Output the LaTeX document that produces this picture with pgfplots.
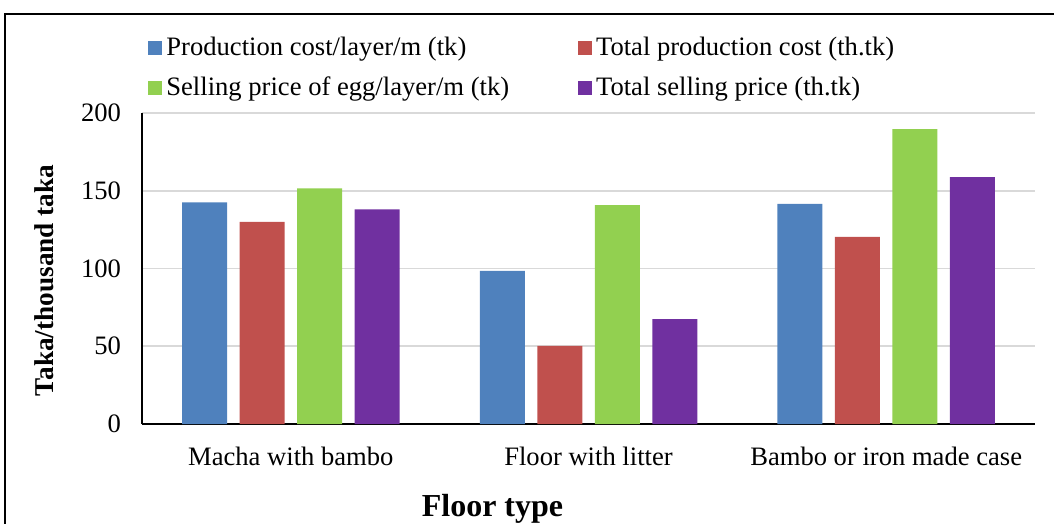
\documentclass[border=0pt]{standalone}
\usepackage{pgfplots}
\pgfplotsset{compat=1.18}
\usepackage{fontspec}
\setmainfont{Liberation Serif}

\definecolor{cBlue}{HTML}{4F81BD}
\definecolor{cRed}{HTML}{C0504D}
\definecolor{cGreen}{HTML}{92D050}
\definecolor{cPurple}{HTML}{7030A0}
\definecolor{gridc}{HTML}{D9D9D9}

\begin{document}
\begin{tikzpicture}
% 1 px of the reference = 0.5pt; axis lower left at px (142,424)
\useasboundingbox (-71pt,-50pt) rectangle (456pt,212pt);
\draw[line width=1pt] (-68.5pt,-52pt) -- (-68.5pt,205pt) -- (460pt,205pt);
\begin{axis}[
  at={(0pt,0pt)}, anchor=south west,
  scale only axis, width=446.5pt, height=155.5pt,
  font=\fontsize{13.3}{16}\selectfont,
  ymin=0, ymax=200, ytick={0,50,100,150,200},
  xmin=-0.5, xmax=2.5, xtick=data,
  xticklabels={Macha with bambo, Floor with litter, Bambo or iron made case},
  axis x line*=bottom, axis y line*=left,
  x axis line style={line width=1pt},
  y axis line style={line width=0.8pt},
  major tick length=0pt,
  ymajorgrids, grid style={color=gridc, line width=0.8pt},
  /pgf/number format/assume math mode=true,
  yticklabel style={xshift=-7pt},
  xticklabel style={yshift=-8pt},
  ybar=6.25pt, bar width=22.5pt,
  ylabel={\textbf{Taka/thousand taka}},
  ylabel style={font=\fontsize{13.6}{16}\selectfont, yshift=6.5pt, xshift=-6pt},
  xlabel={\textbf{Floor type}},
  xlabel style={font=\fontsize{16}{18}\selectfont, xshift=-48pt, yshift=-7.5pt},
  legend columns=2,
  legend style={at={(0.0,1.27)}, anchor=north west, draw=none, fill=none,
    font=\fontsize{13.3}{16}\selectfont, row sep=5pt,
    /tikz/every even column/.append style={column sep=32.5pt}},
  legend cell align=left,
  legend image code/.code={\fill[#1] (0pt,-3.5pt) rectangle (7pt,3.5pt);},
]
\addplot[fill=cBlue, draw=none] coordinates {(0,142.6) (1,98.4) (2,141.5)};
\addplot[fill=cRed, draw=none] coordinates {(0,130) (1,50.2) (2,120.3)};
\addplot[fill=cGreen, draw=none] coordinates {(0,151.6) (1,140.8) (2,189.7)};
\addplot[fill=cPurple, draw=none] coordinates {(0,138) (1,67.5) (2,158.8)};
\legend{Production cost/layer/m (tk), Total production cost (th.tk),
  Selling price of egg/layer/m (tk), Total selling price (th.tk)}
\end{axis}
\end{tikzpicture}
\end{document}
